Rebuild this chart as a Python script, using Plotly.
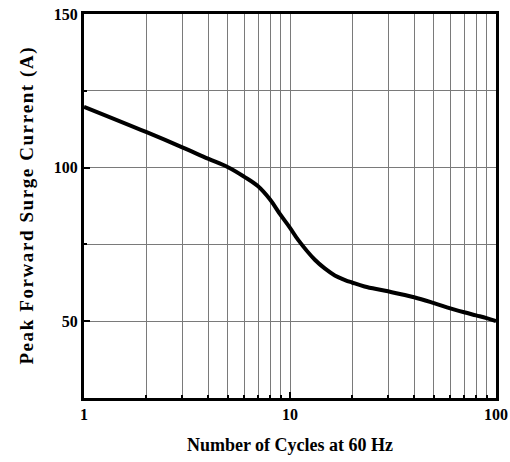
import plotly.graph_objects as go

cycles = [1, 2, 3, 4, 5, 6, 7, 8, 9, 10, 11, 13.2, 14.8, 16.5, 18.5, 20, 23, 29,
          40, 50, 60, 70, 80, 90, 100]
current = [119.8, 111.6, 106.6, 102.9, 100.1, 97.0, 93.9, 89.6, 84.6, 80.4, 76.3,
           70.0, 67.1, 64.9, 63.4, 62.6, 61.3, 59.9, 57.8, 55.9, 54.2, 52.9, 51.9, 51.0, 50.0]

x_major = [1, 10, 100]
x_minor = [2, 3, 4, 5, 6, 7, 8, 9, 20, 30, 40, 50, 60, 70, 80, 90]
y_major = [50, 100, 150]
y_minor = [75, 125]

def spaced(s):
    return "\u200a".join(s)

fig = go.Figure()
fig.add_trace(go.Scatter(x=cycles, y=current, mode="lines",
                         line=dict(color="black", width=4, shape="spline", smoothing=1.1),
                         showlegend=False, hoverinfo="skip"))

font_ticks = dict(family="Liberation Serif", size=16, color="black")
grid = "#7a7a7a"

fig.update_layout(
    width=510, height=462,
    margin=dict(l=84, r=14, t=14, b=64, autoexpand=False),
    paper_bgcolor="white", plot_bgcolor="white",
    font=dict(family="Liberation Serif", color="black"),
    xaxis=dict(
        type="log", range=[0, 2], automargin=False,
        tickvals=x_major, ticktext=["<b>%d</b>" % v for v in x_major],
        ticks="inside", ticklen=6, tickwidth=2, tickcolor="black",
        showgrid=True, gridcolor=grid, gridwidth=1,
        minor=dict(tickvals=x_minor, ticks="inside", ticklen=3, tickwidth=1.5,
                   tickcolor="black", showgrid=True, gridcolor=grid, gridwidth=1),
        showline=True, linecolor="black", linewidth=3, mirror=True,
        tickfont=font_ticks, zeroline=False,
        title=dict(text="<b>Number of Cycles at 60 Hz</b>",
                   font=dict(family="Liberation Serif", size=18, color="black"),
                   standoff=17),
    ),
    yaxis=dict(
        range=[25, 150], automargin=False,
        tickvals=y_major, ticktext=["<b>%d</b>" % v for v in y_major],
        ticks="inside", ticklen=6, tickwidth=2, tickcolor="black",
        showgrid=True, gridcolor=grid, gridwidth=1,
        minor=dict(tickvals=y_minor, ticks="inside", ticklen=3, tickwidth=1.5,
                   tickcolor="black", showgrid=True, gridcolor=grid, gridwidth=1),
        showline=True, linecolor="black", linewidth=3, mirror=True,
        tickfont=font_ticks, zeroline=False,
        title=dict(text="<b>" + spaced("Peak Forward Surge Current (A)") + "</b>",
                   font=dict(family="Liberation Serif", size=19, color="black"),
                   standoff=16),
    ),
)

fig.write_html("out.html", config={"displayModeBar": False},
               post_script="document.body.style.margin='0';document.body.style.padding='0';")
